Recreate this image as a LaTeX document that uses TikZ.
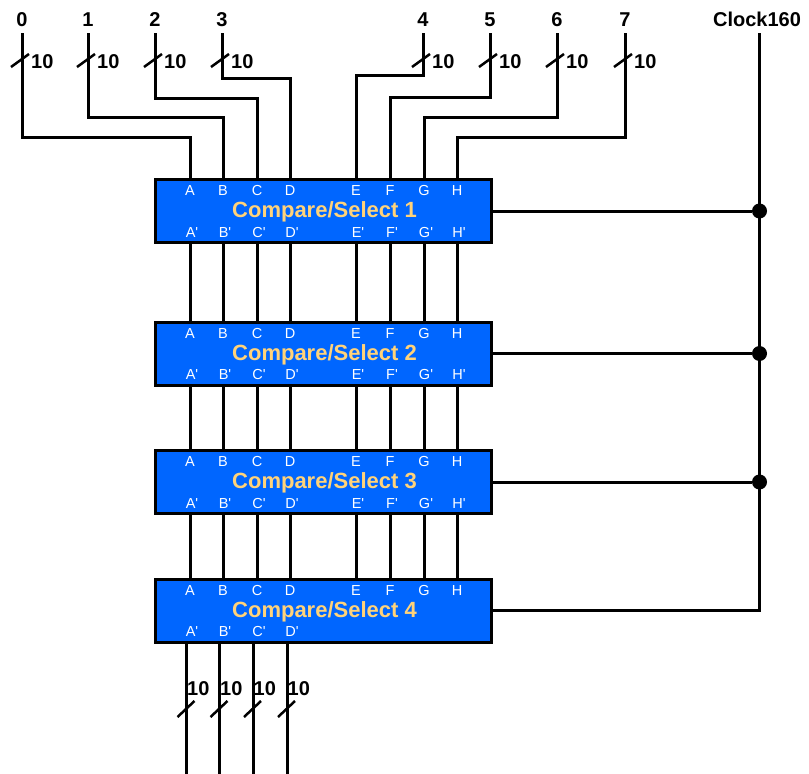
\documentclass[tikz,border=0pt]{standalone}
\usepackage{fontspec}
\setmainfont{Liberation Sans}
\usepackage{tikz}
\usetikzlibrary{positioning}
\definecolor{csblue}{HTML}{0066FF}
\definecolor{csgold}{HTML}{FFD37A}

\begin{document}
\begin{tikzpicture}[x=1pt,y=-1pt,
  blk/.style={draw=black,line width=3pt,fill=csblue,minimum width=336pt,
    minimum height=63pt,inner sep=0pt},
  ttl/.style={text=csgold,inner sep=0pt,font=\fontsize{22}{26}\selectfont\bfseries},
  pin/.style={text=white,inner sep=0pt,font=\fontsize{14.5}{17}\selectfont},
  lbl/.style={anchor=south,inner xsep=0pt,inner ysep=6pt,
    font=\fontsize{20}{24}\selectfont\bfseries},
  bus/.style={anchor=west,inner sep=0pt,font=\fontsize{20}{24}\selectfont\bfseries},
  wire/.style={line width=3pt},
  slash/.style={line width=2.5pt},
  jdot/.style={circle,fill=black,inner sep=0pt,minimum size=15pt}]
\useasboundingbox (0,0) rectangle (809,774);
\foreach \i/\y in {1/211,2/353.5,3/482,4/610.5}{
  \node[blk] (cs\i) at (323.5,\y) {};
  \node[ttl] (t\i) at (324.5,\y+1) {Compare/Select \i};
  \foreach \p/\x in {A/190,B/223,C/257,D/290,E/356,F/390,G/424,H/457}{
    \node[pin] (cs\i\p) at (\x,\y-20) {\p};
    \coordinate (cs\i-\p-t) at (\x,\y-31.5);
    \coordinate (cs\i-\p-b) at (\x,\y+31.5);
  }
}
\foreach \i/\y in {1/211,2/353.5,3/482}
  \foreach \p/\x in {A/190,B/223,C/257,D/290,E/356,F/390,G/424,H/457}
    \node[pin] (cs\i\p q) at (\x+2,\y+21.5) {\p\textquotesingle};
\foreach \p/\x in {A/190,B/223,C/257,D/290}
  \node[pin] (cs4\p q) at (\x+2,631.5) {\p\textquotesingle};
\foreach \n/\x in {0/22,1/88,2/155,3/222,4/423,5/490,6/557,7/625}{
  \node[lbl] (in\n) at (\x,33) {\n};
  \draw[slash] (\x-11,67) -- (\x+7,54);
  \node[bus] (w\n) at (\x+9,62) {10};
}
\foreach \n/\p/\h in {0/A/42,1/B/62,2/C/81,3/D/101,4/E/104,5/F/82,6/G/62,7/H/42}
  \draw[wire] (in\n.south) |- ([yshift=\h pt]cs1-\p-t) -- (cs1-\p-t);
\foreach \i/\j in {1/2,2/3,3/4}
  \foreach \p in {A,B,C,D,E,F,G,H}
    \draw[wire] (cs\i-\p-b) -- (cs\j-\p-t);
\foreach \p/\x in {A/186.5,B/219.5,C/253,D/287}{
  \coordinate (out\p) at (\x,776);
  \draw[wire] (cs4.south -| out\p) -- (out\p);
  \draw[slash] (\x-9,717) -- (\x+8,701);
  \node[bus] (v\p) at (\x+0.5,689) {10};
}
\coordinate (ctop) at (759.5,33);
\node[lbl] (clk) at (757,33) {Clock160};
\draw[wire] (ctop) |- (cs4.east);
\foreach \i in {1,2,3}{
  \node[jdot] (j\i) at (cs\i.east -| ctop) {};
  \draw[wire] (cs\i.east) -- (j\i);
}
\end{tikzpicture}
\end{document}
